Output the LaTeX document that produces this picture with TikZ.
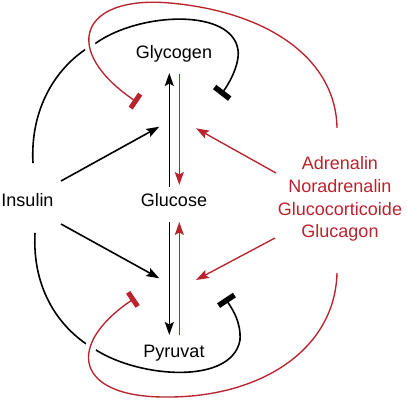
\documentclass[tikz,border=0pt]{standalone}
\usepackage{fontspec}
\setmainfont{Liberation Sans}
\usetikzlibrary{arrows.meta}
\definecolor{hred}{RGB}{185,35,45}
\begin{document}
\begin{tikzpicture}[x=1bp,y=-1bp,
  lbl/.style={inner sep=0pt,font=\fontsize{18bp}{22.7bp}\selectfont},
  blk/.style={line width=1.6bp,black},
  rd/.style={line width=1.35bp,hred},
  arr/.style={-{Stealth[length=13bp,width=9bp,inset=2.5bp]}},
  inhb/.style={-{Bar[width=19bp,line width=5.5bp]}},
  inhr/.style={-{Bar[width=17bp,line width=5bp]}},
  halo/.style={preaction={draw=white,line width=11bp,-}}
]
\useasboundingbox (0,0) rectangle (407,401);

% nodes
\node[lbl] (gly) at (174,54) {Glycogen};
\node[lbl] (glu) at (174,200.5) {Glucose};
\node[lbl] (pyr) at (174,353.5) {Pyruvat};
\node[lbl] (ins) at (27.5,200) {Insulin};
\node[lbl,hred,align=center] (hor) at (340,199) {Adrenalin\\Noradrenalin\\Glucocorticoide\\Glucagon};

% connector end points
\coordinate (gluNB) at (169.3,187);
\coordinate (glyB) at (169.3,73);
\coordinate (glyR) at (179.3,74);
\coordinate (gluNR) at (179.3,185);
\coordinate (gluSB) at (169.3,222);
\coordinate (pyrB) at (169.3,335);
\coordinate (pyrR) at (179.3,335);
\coordinate (gluSR) at (179.3,222);
\coordinate (insN) at (61,181);
\coordinate (insS) at (61,224);
\coordinate (upIns) at (159.3,126.7);
\coordinate (loIns) at (159.3,278.3);
\coordinate (horN) at (276,173);
\coordinate (horS) at (275,238);
\coordinate (upHor) at (196,128.3);
\coordinate (loHor) at (196,280);
\coordinate (insTop) at (33,163);
\coordinate (insBot) at (35,233);
\coordinate (barTB) at (220.5,95);
\coordinate (barBB) at (225,298);
\coordinate (horTop) at (337,128);
\coordinate (horBot) at (337,273);
\coordinate (barTR) at (137.5,102.5);
\coordinate (barBR) at (135,298);

% black feedback curves
\draw[blk,inhb] (insTop) .. controls (30,110) and (55,65) .. (96,43)
  .. controls (140,12) and (232,8) .. (238,50)
  .. controls (240,64) and (229,84) .. (barTB);
\draw[blk,inhb] (insBot) .. controls (32,290) and (60,330) .. (96,350)
  .. controls (140,378) and (232,385) .. (240,340)
  .. controls (241,322) and (233,310) .. (barBB);

% red feedback curves
\draw[rd,inhr,halo] (horTop) .. controls (336,60) and (270,12) .. (170,3)
  .. controls (80,-5) and (60,50) .. (barTR);
\draw[rd,inhr,halo] (horBot) .. controls (335,350) and (260,398) .. (165,397)
  .. controls (75,397) and (65,345) .. (barBR);

% vertical arrows
\draw[blk,arr] (gluNB) -- (glyB);
\draw[rd,arr] (glyR) -- (gluNR);
\draw[blk,arr] (gluSB) -- (pyrB);
\draw[rd,arr] (pyrR) -- (gluSR);

% insulin arrows
\draw[blk,arr] (insN) -- (upIns);
\draw[blk,arr] (insS) -- (loIns);

% hormone arrows
\draw[rd,arr] (horN) -- (upHor);
\draw[rd,arr] (horS) -- (loHor);
\end{tikzpicture}
\end{document}
